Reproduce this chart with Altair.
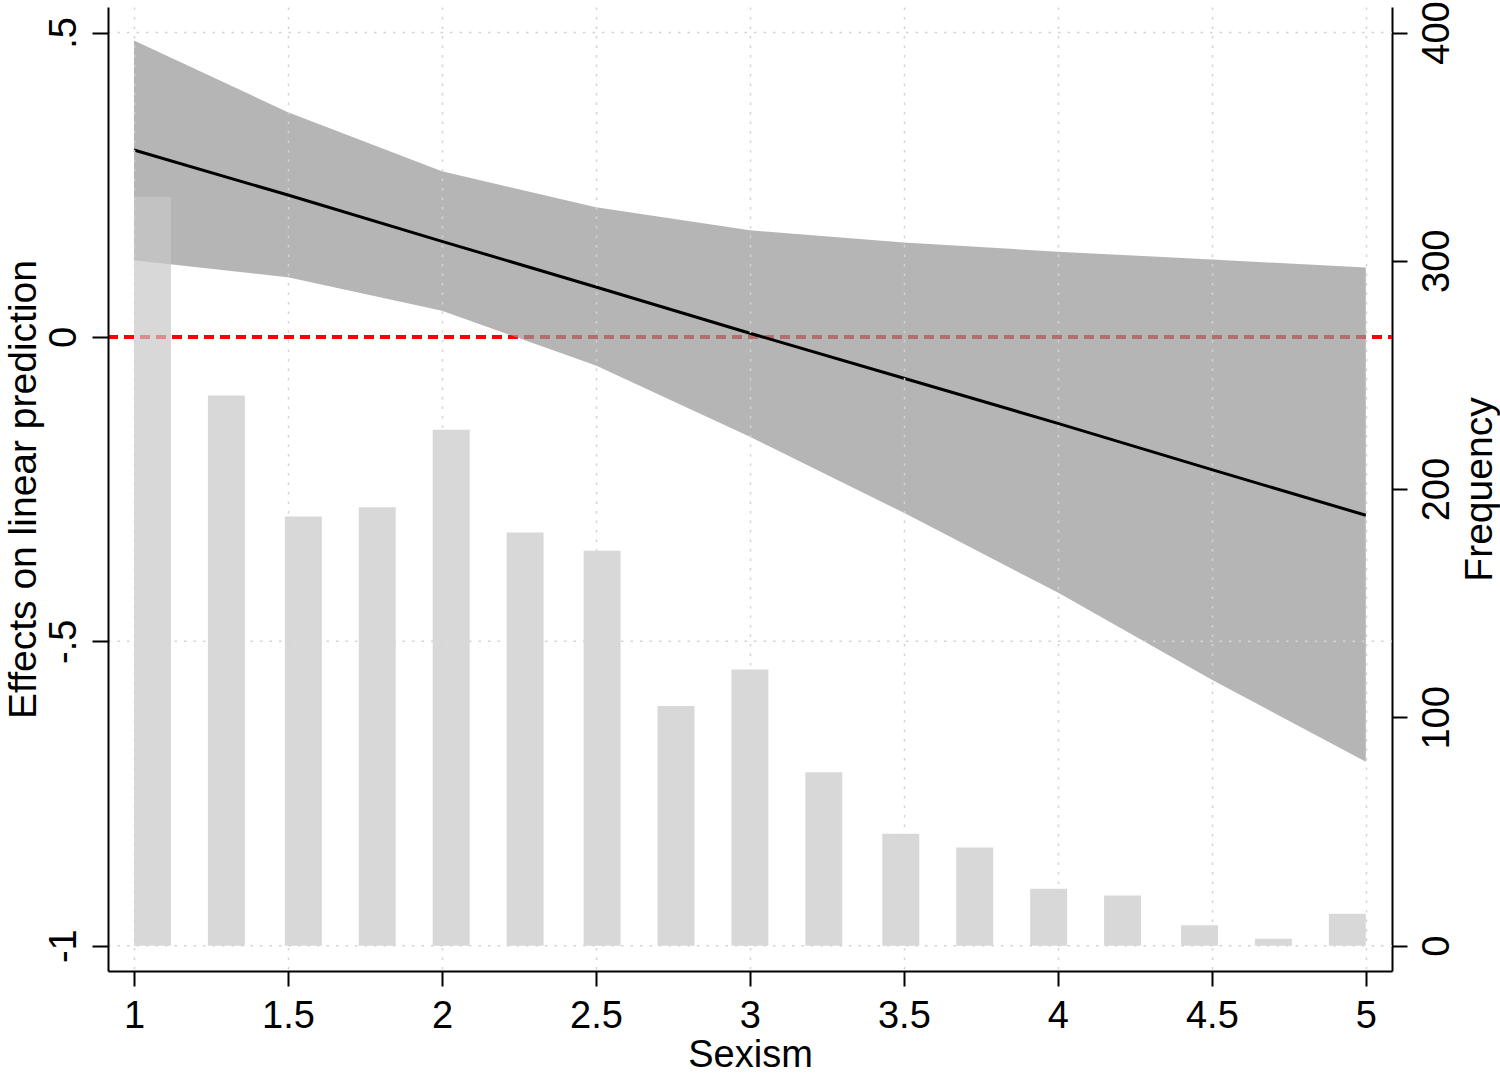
import altair as alt
import pandas as pd

# Predicted effects of sexism (margins at 0.5 steps) with 95% CI
sexism_at = [1.0, 1.5, 2.0, 2.5, 3.0, 3.5, 4.0, 4.5, 5.0]
effect = [0.307, 0.233, 0.157, 0.082, 0.006, -0.068, -0.142, -0.218, -0.293]
ci_low = [0.126, 0.098, 0.043, -0.047, -0.164, -0.289, -0.420, -0.563, -0.698]
ci_high = [0.487, 0.369, 0.272, 0.213, 0.175, 0.155, 0.140, 0.127, 0.114]

# Histogram of sexism (bin left edges and counts)
bin_start = [1.00, 1.24, 1.49, 1.73, 1.97, 2.21, 2.46, 2.70, 2.94,
             3.18, 3.43, 3.67, 3.91, 4.15, 4.40, 4.64, 4.88]
frequency = [328, 241, 188, 192, 226, 181, 173, 105, 121,
             76, 49, 43, 25, 22, 9, 3, 14]

x_ticks = [1, 1.5, 2, 2.5, 3, 3.5, 4, 4.5, 5]
y_ticks = [-1, -0.5, 0, 0.5]
freq_ticks = [0, 100, 200, 300, 400]

FONT = "Liberation Sans"
W, H = 1284, 964
GRID_COLOR = "#d4d4d4"
GRID_DASH = [2.5, 7]

margins_df = pd.DataFrame({"x": sexism_at, "fit": effect, "lo": ci_low, "hi": ci_high})
hist_df = pd.DataFrame({"start": bin_start, "freq": frequency})
zero_df = pd.DataFrame({"y": [0]})
# horizontal grid lines (the zero line carries the red reference line instead)
hgrid_df = pd.DataFrame({"y": [v for v in y_ticks if v != 0]})

x_scale = alt.Scale(domain=[0.9156, 5.0850], nice=False, zero=False)
y_scale = alt.Scale(domain=[-1.0416, 0.5419], nice=False, zero=False)
f_scale = alt.Scale(domain=[-11.08, 411.17], nice=False, zero=False)

x_axis = alt.Axis(
    values=x_ticks, format="~g", title="Sexism",
    grid=True, gridColor=GRID_COLOR, gridDash=GRID_DASH, gridWidth=1.5,
    domainColor="black", domainWidth=2, tickColor="black", tickWidth=2, tickSize=15,
    labelFontSize=38, labelFont=FONT, labelColor="black",
    labelBaseline="alphabetic", labelPadding=41, labelFlush=False, labelOverlap=False,
    titleFont=FONT, titleFontSize=38, titleFontWeight="normal", titleColor="black",
    titleX=642, titleY=95, titleBaseline="alphabetic", titleAlign="center",
    zindex=1,
)

y_axis = alt.Axis(
    orient="left", values=y_ticks,
    labelExpr="datum.value == -1 ? '-1' : datum.value == -0.5 ? '-.5' : datum.value == 0 ? '0' : '.5'",
    title="Effects on linear prediction", grid=False,
    domainColor="black", domainWidth=2, tickColor="black", tickWidth=2, tickSize=16,
    labelFontSize=38, labelFont=FONT, labelColor="black", labelAngle=270,
    labelAlign="center", labelBaseline="alphabetic", labelPadding=17, labelOverlap=False,
    titleFont=FONT, titleFontSize=39, titleFontWeight="normal", titleColor="black",
    titleAngle=270, titleX=-73, titleY=482, titleAlign="center", titleBaseline="alphabetic",
    zindex=1,
)

f_axis = alt.Axis(
    orient="right", values=freq_ticks, title="Frequency", grid=False,
    domainColor="black", domainWidth=2, tickColor="black", tickWidth=2, tickSize=15,
    labelFontSize=38, labelFont=FONT, labelColor="black", labelAngle=270,
    labelAlign="center", labelBaseline="alphabetic", labelPadding=41, labelOverlap=False,
    titleFont=FONT, titleFontSize=39, titleFontWeight="normal", titleColor="black",
    titleAngle=270, titleX=99, titleY=482, titleAlign="center", titleBaseline="alphabetic",
)

# Reference line at zero
zero_rule = alt.Chart(zero_df).mark_rule(
    color="#ff0000", strokeDash=[10, 6], strokeWidth=4
).encode(
    y=alt.Y("y:Q", scale=y_scale, axis=None),
    x=alt.value(0),
    x2=alt.value(W),
)

# Confidence band
band = alt.Chart(margins_df).mark_area(color="#999999", opacity=0.72).encode(
    x=alt.X("x:Q", scale=x_scale, axis=x_axis),
    y=alt.Y("lo:Q", scale=y_scale, axis=y_axis),
    y2="hi:Q",
)

# Histogram bars on the right-hand frequency axis
bars = alt.Chart(hist_df).transform_calculate(
    end="datum.start + 0.12", base="0"
).mark_rect(color="#c8c8c8", opacity=0.7).encode(
    x=alt.X("start:Q", scale=x_scale, axis=x_axis),
    x2="end:Q",
    y=alt.Y("freq:Q", scale=f_scale, axis=f_axis),
    y2="base:Q",
)

# Point estimate line
fit_line = alt.Chart(margins_df).mark_line(color="black", strokeWidth=3).encode(
    x=alt.X("x:Q", scale=x_scale, axis=x_axis),
    y=alt.Y("fit:Q", scale=y_scale, axis=None),
)

# Dotted horizontal grid drawn above the band and bars
hgrid = alt.Chart(hgrid_df).mark_rule(
    color=GRID_COLOR, strokeDash=GRID_DASH, strokeWidth=1.5
).encode(
    y=alt.Y("y:Q", scale=y_scale, axis=None),
    x=alt.value(0),
    x2=alt.value(W),
)

chart = (
    alt.layer(zero_rule, band, bars, fit_line, hgrid)
    .resolve_scale(y="independent")
    .properties(
        width=W, height=H,
        autosize=alt.AutoSizeParams(type="none"),
        padding={"left": 108, "top": 7, "right": 108, "bottom": 102},
        background="white",
    )
    .configure_view(stroke=None)
)

chart.save("out.html", embed_options={"renderer": "svg", "actions": False})
